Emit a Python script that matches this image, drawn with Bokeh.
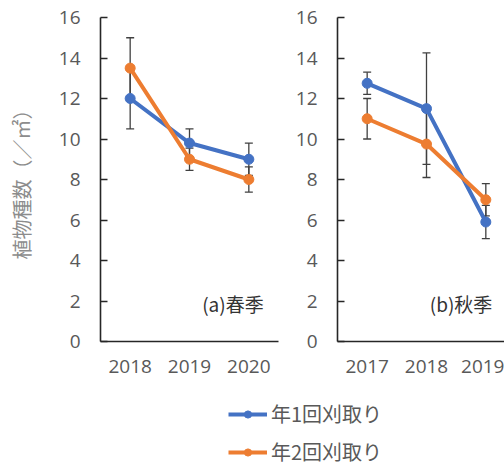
from bokeh.plotting import figure
from bokeh.models import (Range1d, FixedTicker, Whisker, TeeHead, ColumnDataSource,
                          Label, Legend)
from bokeh.layouts import column, row
from bokeh.embed import file_html
from bokeh.resources import INLINE

# Species counts per m² (mean and error) for the two mowing regimes
spring_years = ["2018", "2019", "2020"]
spring_once = [12.0, 9.8, 9.0]
spring_once_err = [1.5, 0.7, 0.8]
spring_twice = [13.5, 9.0, 8.0]
spring_twice_err = [1.5, 0.55, 0.62]

autumn_years = ["2017", "2018", "2019"]
autumn_once = [12.75, 11.5, 5.9]
autumn_once_err = [0.55, 2.75, 0.82]
autumn_twice = [11.0, 9.75, 7.0]
autumn_twice_err = [1.0, 1.65, 0.8]

series_names = ["年1回刈取り", "年2回刈取り"]
y_ticks = [0, 2, 4, 6, 8, 10, 12, 14, 16]

BLUE = "#4472C4"
ORANGE = "#ED7D31"
AXIS = "#262626"
TICK_TXT = "#595959"
NUM_FONT = "Open Sans"
JP_FONT = "Noto Sans CJK JP"


def panel(years, series, tag, width, border_left, border_right, x_end, ylabel=None):
    p = figure(width=width, height=395, x_range=Range1d(0, x_end), y_range=Range1d(0, 16),
               output_backend="svg", toolbar_location=None,
               min_border_left=border_left, min_border_right=border_right,
               min_border_top=17, min_border_bottom=54)
    p.outline_line_color = None
    p.grid.visible = False

    xs = [i + 0.5 for i in range(len(years))]

    for (vals, errs), color in zip(series, [BLUE, ORANGE]):
        src = ColumnDataSource(dict(
            x=xs, y=vals,
            upper=[v + e for v, e in zip(vals, errs)],
            lower=[v - e for v, e in zip(vals, errs)],
        ))
        p.line("x", "y", source=src, line_color=color, line_width=4)
        p.scatter("x", "y", source=src, size=10, fill_color=color, line_color=color)
        p.add_layout(Whisker(base="x", upper="upper", lower="lower", source=src,
                             line_color="#404040", line_width=1.3,
                             upper_head=TeeHead(size=8, line_color="#404040", line_width=1.3),
                             lower_head=TeeHead(size=8, line_color="#404040", line_width=1.3)))

    xa = p.xaxis[0]
    xa.ticker = FixedTicker(ticks=xs)
    xa.major_label_overrides = {x: y for x, y in zip(xs, years)}
    xa.major_tick_in = 0
    xa.major_tick_out = 0
    xa.minor_tick_line_color = None
    xa.axis_line_color = AXIS
    xa.axis_line_width = 1.6
    xa.major_label_text_font = NUM_FONT
    xa.major_label_text_font_size = "19px"
    xa.major_label_text_color = TICK_TXT
    xa.major_label_standoff = 18

    ya = p.yaxis[0]
    ya.ticker = FixedTicker(ticks=y_ticks)
    ya.major_tick_in = 7
    ya.major_tick_out = 0
    ya.minor_tick_line_color = None
    ya.axis_line_color = AXIS
    ya.axis_line_width = 1.6
    ya.major_tick_line_color = AXIS
    ya.major_tick_line_width = 1.6
    ya.major_label_text_font = NUM_FONT
    ya.major_label_text_font_size = "19px"
    ya.major_label_text_color = TICK_TXT
    ya.major_label_standoff = 20
    if ylabel:
        ya.axis_label = ylabel
        ya.axis_label_text_font = JP_FONT
        ya.axis_label_text_font_size = "20px"
        ya.axis_label_text_font_style = "normal"
        ya.axis_label_text_color = "#8c8c8c"
        ya.axis_label_standoff = 20

    p.add_layout(Label(x=tag[1], y=1.9, text=tag[0], text_align="right",
                       text_baseline="middle", text_font=JP_FONT,
                       text_font_size="19px", text_color="#333333"))
    return p


pa = panel(spring_years,
           [(spring_once, spring_once_err), (spring_twice, spring_twice_err)],
           ("(a)春季", 2.75), width=289, border_left=100, border_right=11, x_end=3,
           ylabel="植物種数（／㎡）")
pb = panel(autumn_years,
           [(autumn_once, autumn_once_err), (autumn_twice, autumn_twice_err)],
           ("(b)秋季", 2.61), width=215, border_left=48, border_right=0, x_end=167 / 59.33)

# Legend strip below both panels; its sample renderers sit outside the visible range
leg = figure(width=504, height=70, output_backend="svg", toolbar_location=None,
             x_range=Range1d(0, 1), y_range=Range1d(0, 1), min_border=0,
             x_axis_location=None, y_axis_location=None)
leg.outline_line_color = None
leg.grid.visible = False
items = []
for name, color in zip(series_names, [BLUE, ORANGE]):
    r_line = leg.line(x=[5, 6], y=[5, 5], line_color=color, line_width=4)
    r_dot = leg.scatter(x=[5], y=[5], size=9, fill_color=color, line_color=color)
    items.append((name, [r_line, r_dot]))
legend = Legend(items=items, location=(228, -1), orientation="vertical",
                glyph_width=39, glyph_height=18, label_height=18, spacing=9,
                padding=0, margin=0, border_line_color=None, background_fill_alpha=0,
                label_text_font=JP_FONT, label_text_font_size="20px",
                label_text_color=TICK_TXT, label_standoff=4)
leg.add_layout(legend)

layout = column(row(pa, pb), leg)
open("out.html", "w").write(file_html(layout, INLINE))
